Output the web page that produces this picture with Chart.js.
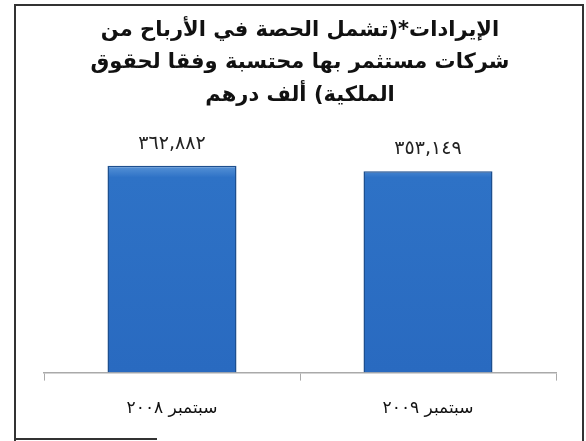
<!DOCTYPE html>
<html>
<head>
<meta charset="utf-8">
<script src="https://cdn.jsdelivr.net/npm/chart.js@4.4.1/dist/chart.umd.min.js"></script>
<style>
  html, body { margin: 0; padding: 0; background: #fff; }
  #wrap { position: relative; width: 586px; height: 441px; }
</style>
</head>
<body>
<div id="wrap"><canvas id="revChart" dir="rtl" width="586" height="441"></canvas></div>
<script>
const titleLines = [
  "الإيرادات*(تشمل الحصة في الأرباح من",
  "شركات مستثمر بها محتسبة وفقا لحقوق",
  "الملكية) ألف درهم"
];
const categories = ["سبتمبر ٢٠٠٨", "سبتمبر ٢٠٠٩"];
const revenues = [362882, 353149];
const valueLabels = ["٣٦٢,٨٨٢", "٣٥٣,١٤٩"];

// value text above each bar
const barValues = {
  id: "barValues",
  afterDatasetsDraw(chart) {
    const ctx = chart.ctx;
    const meta = chart.getDatasetMeta(0);
    ctx.save();
    ctx.font = "19px 'DejaVu Sans'";
    ctx.fillStyle = "#222";
    ctx.textAlign = "center";
    ctx.textBaseline = "middle";
    meta.data.forEach((bar, i) => {
      ctx.fillText(valueLabels[i], bar.x, bar.y - 22);
    });
    ctx.restore();
  }
};

// picture frame round the chart
const frame = {
  id: "frame",
  afterDraw(chart) {
    const ctx = chart.ctx;
    ctx.save();
    ctx.strokeStyle = "#333";
    ctx.lineWidth = 2;
    ctx.beginPath();
    ctx.moveTo(15, 441);
    ctx.lineTo(15, 5);
    ctx.lineTo(583, 5);
    ctx.lineTo(583, 441);
    ctx.moveTo(14, 439);
    ctx.lineTo(157, 439);
    ctx.stroke();
    ctx.restore();
  }
};

const ctx = document.getElementById("revChart").getContext("2d");
const grad = ctx.createLinearGradient(0, 165, 0, 372);
grad.addColorStop(0, "#5a95d8");
grad.addColorStop(0.06, "#2e72c6");
grad.addColorStop(1, "#296ac0");

new Chart(ctx, {
  type: "bar",
  data: {
    labels: categories,
    datasets: [{
      data: revenues,
      backgroundColor: grad,
      borderColor: "#1d4f8e",
      borderWidth: 1.5,
      barPercentage: 1,
      categoryPercentage: 0.504
    }]
  },
  options: {
    responsive: false,
    animation: false,
    layout: { padding: { top: 14, left: 44, right: 30, bottom: 4 } },
    plugins: {
      legend: { display: false },
      tooltip: { enabled: false },
      title: {
        display: true,
        text: titleLines,
        color: "#111",
        font: { family: "'DejaVu Sans'", size: 21, weight: "bold", lineHeight: 1.55 },
        padding: { top: 0, bottom: 33 }
      }
    },
    scales: {
      x: {
        border: { display: true, color: "#aaa", width: 1.5 },
        grid: { display: true, drawOnChartArea: false, drawTicks: true, tickLength: 8, color: "#aaa", offset: true },
        ticks: { color: "#111", font: { family: "'DejaVu Sans'", size: 17 }, padding: 18 }
      },
      y: {
        display: false,
        min: 0,
        max: 400000
      }
    }
  },
  plugins: [barValues, frame]
});
</script>
</body>
</html>
